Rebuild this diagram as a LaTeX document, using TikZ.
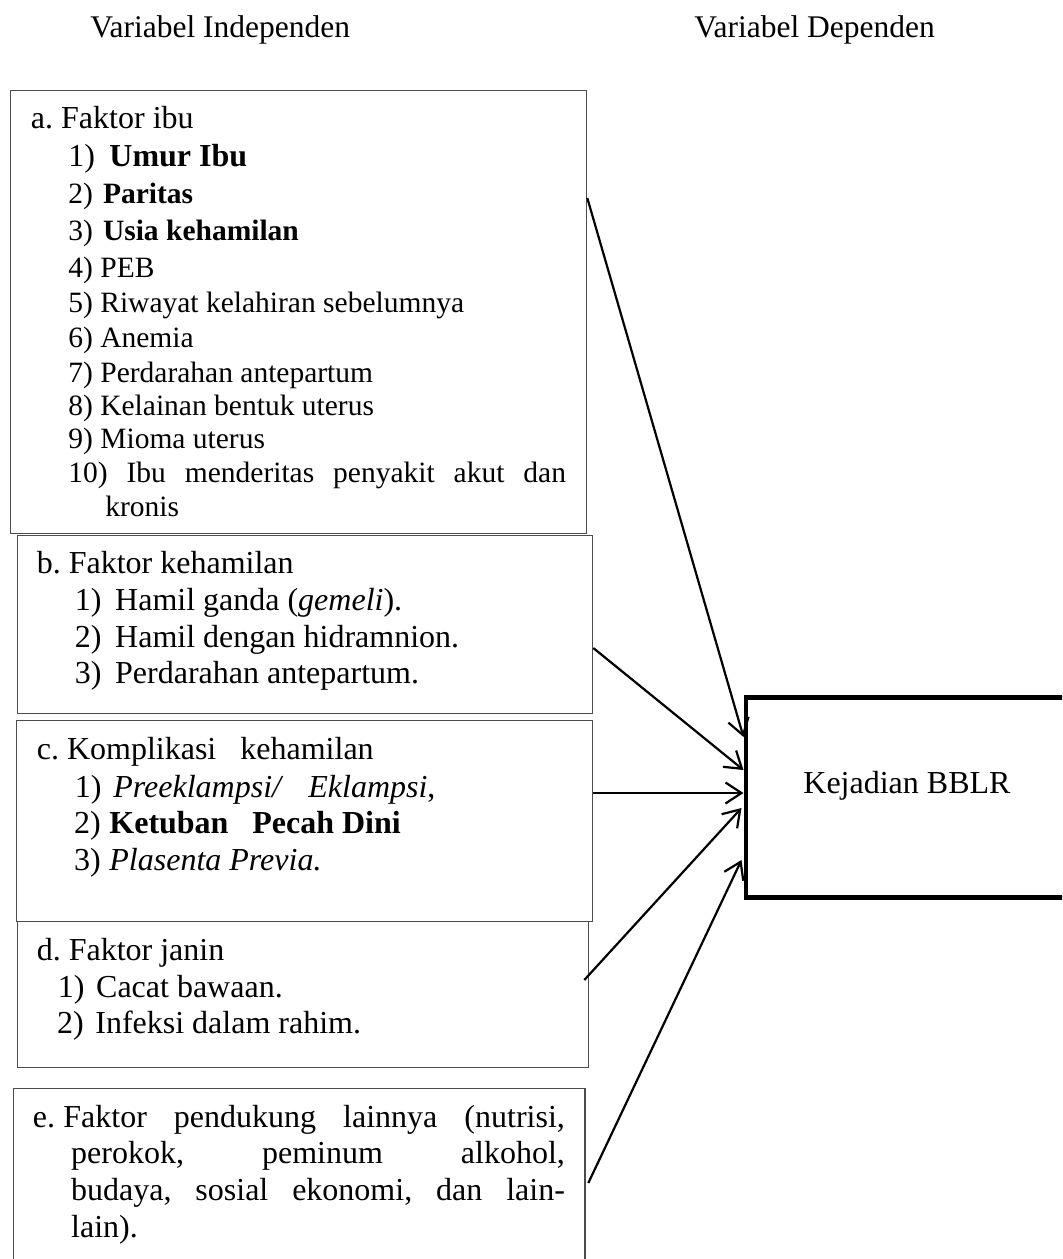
\documentclass[tikz,border=0pt]{standalone}
\usepackage{fontspec}
\setmainfont{Liberation Serif}
\usepackage{tikz}
\usetikzlibrary{arrows.meta}
\usetikzlibrary{calc}
\frenchspacing

\begin{document}
\begin{tikzpicture}[
    x=0.5pt, y=-0.5pt,
    factor/.style={draw=black!70, line width=0.65pt, anchor=north west, inner sep=0pt},
    line/.style={anchor=base west, inner sep=0pt, font=\fontsize{16}{19}\selectfont},
    smallline/.style={line, font=\fontsize{14.75}{17}\selectfont},
    title/.style={line, font=\fontsize{15.75}{19}\selectfont},
    every edge/.style={draw, line width=1.1pt, -{Straight Barb[length=8pt, width=10.5pt]}}
]
\useasboundingbox (0,0) rectangle (1062,1259);
\clip (0,0) rectangle (1062,1259);

% Titles
\node[title] (indep) at (90,37) {Variabel Independen};
\node[title] (dep) at (694,37) {Variabel Dependen};

% Boxes
\node[factor, minimum width=288pt, minimum height=221.5pt] (ibu) at (9.5,90) {};
\node[factor, minimum width=287.75pt, minimum height=89pt] (hamil) at (16.5,535) {};
\node[factor, minimum width=288.15pt, minimum height=100.5pt] (komplikasi) at (15.7,720) {};
\node[factor, minimum width=285.5pt, minimum height=73pt] (janin) at (16.5,921) {};
\node[factor, minimum width=285.9pt, minimum height=100pt] (pendukung) at (12.6,1088) {};
\node[draw, line width=2.25pt, anchor=north west, inner sep=0pt,
      minimum width=168pt, minimum height=100pt] (bblr) at (743.5,695) {};
\node[line] (bblrlabel) at (803,793) {Kejadian BBLR};

% a. Faktor ibu
\node[line] (ibuhead) at (30.6,128) {a. Faktor ibu};
\node[line] (ibu1) at (68,166) {\makebox[20.5pt][l]{1)}\textbf{Umur Ibu}};
\node[smallline] (ibu2) at (68,203) {\makebox[17.3pt][l]{2)}\textbf{Paritas}};
\node[smallline] (ibu3) at (68,240) {\makebox[17.3pt][l]{3)}\textbf{Usia kehamilan}};
\node[smallline] (ibu4) at (68,277) {4) PEB};
\node[smallline] (ibu5) at (68,312) {5) Riwayat kelahiran sebelumnya};
\node[smallline] (ibu6) at (68,347) {6) Anemia};
\node[smallline] (ibu7) at (68,382) {7) Perdarahan antepartum};
\node[smallline] (ibu8) at (68,415) {8) Kelainan bentuk uterus};
\node[smallline] (ibu9) at (68,448) {9) Mioma uterus};
\node[smallline] (ibu10) at (68,482) {\makebox[248.8pt][s]{10) Ibu menderitas penyakit akut dan}};
\node[smallline] (ibu10b) at (105,516) {kronis};

% b. Faktor kehamilan
\node[line] (hamilhead) at (36.4,573) {b. Faktor kehamilan};
\node[line] (hamil1) at (74.6,610) {\makebox[20.1pt][l]{1)}Hamil ganda (\textit{gemeli}).};
\node[line] (hamil2) at (74.6,647) {\makebox[20.1pt][l]{2)}Hamil dengan hidramnion.};
\node[line] (hamil3) at (74.6,683) {\makebox[20.1pt][l]{3)}Perdarahan antepartum.};

% c. Komplikasi kehamilan
\node[line] (komphead) at (36.4,759) {\makebox[101.8pt][l]{c. Komplikasi}kehamilan};
\node[line] (komp1) at (74.6,797) {\makebox[19.2pt][l]{1)}\textit{\makebox[97.5pt][l]{Preeklampsi/}Eklampsi},};
\node[line] (komp2) at (73.8,833) {\makebox[17.6pt][l]{2)}\textbf{\makebox[71.5pt][l]{Ketuban}Pecah Dini}};
\node[line] (komp3) at (73.8,870) {\makebox[17.6pt][l]{3)}\textit{Plasenta Previa.}};

% d. Faktor janin
\node[line] (janinhead) at (36.4,960) {d. Faktor janin};
\node[line] (janin1) at (57.4,997) {\makebox[19.2pt][l]{1)}Cacat bawaan.};
\node[line] (janin2) at (56.6,1033) {\makebox[19.2pt][l]{2)}Infeksi dalam rahim.};

% e. Faktor pendukung
\node[line] (pend1) at (32.5,1127) {\makebox[15.25pt][l]{e.}\makebox[250.75pt][s]{Faktor pendukung lainnya (nutrisi,}};
\node[line] (pend2) at (70.8,1163) {\makebox[246.85pt][s]{perokok, peminum alkohol,}};
\node[line] (pend3) at (70.8,1200) {\makebox[246.85pt][s]{budaya, sosial ekonomi, dan lain-}};
\node[line] (pend4) at (70.8,1237) {lain).};

% Edges
\path ($(ibu.north east)+(0.5,108)$) edge ($(bblr.north west)+(0,42)$);
\path ($(hamil.north east)+(0,113)$) edge ($(bblr.north west)+(0,75)$);
\path ($(komplikasi.north east)+(0,73)$) edge ($(bblr.north west)+(0,98)$);
\path ($(janin.north east)+(-4.5,59)$) edge ($(bblr.north west)+(-2,113)$);
\path ($(pendukung.north east)+(2.6,95)$) edge ($(bblr.north west)+(-2,165)$);

\end{tikzpicture}
\end{document}
